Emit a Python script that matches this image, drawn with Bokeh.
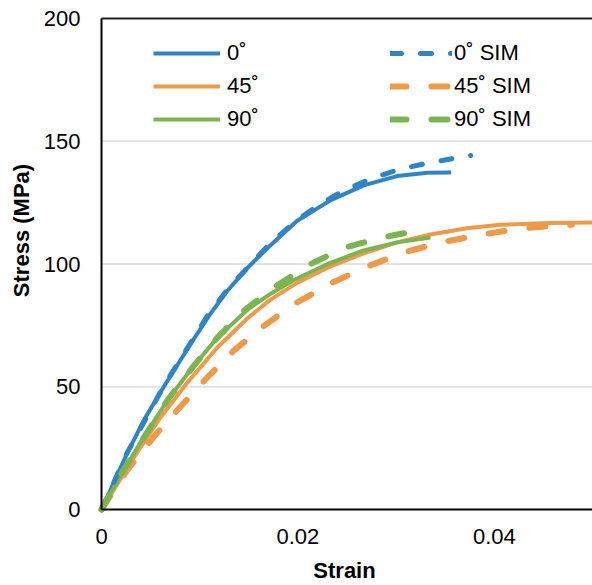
import math

from bokeh.plotting import figure
from bokeh.models import Legend, LegendItem, FixedTicker, Range1d, Label
from bokeh.core.properties import value
from bokeh.embed import file_html
from bokeh.resources import INLINE

# Stress-strain curves: measured specimens and simulations at three orientations
strain_0 = [0, 0.0026, 0.0043, 0.0063, 0.0091, 0.0111, 0.0128, 0.0149, 0.0165,
            0.0199, 0.0233, 0.0267, 0.0301, 0.0332, 0.0356]
stress_0 = [0, 22.8, 36.3, 49.7, 67.6, 79.8, 89.0, 98.5, 105.0,
            117.5, 125.9, 132.0, 135.8, 137.2, 137.3]

strain_45 = [0, 0.0033, 0.0060, 0.0088, 0.0118, 0.0149, 0.0172, 0.0200, 0.0233,
             0.0267, 0.0301, 0.0335, 0.0372, 0.0406, 0.0457, 0.0500]
stress_45 = [0, 21.2, 37.5, 52.0, 66.0, 78.0, 85.5, 92.5, 99.0,
             104.3, 108.8, 112.0, 114.6, 116.0, 116.7, 116.9]

strain_90 = [0, 0.0019, 0.0043, 0.0067, 0.0091, 0.0118, 0.0149, 0.0172, 0.0196,
             0.0233, 0.0267, 0.0301, 0.0335]
stress_90 = [0, 13.5, 29.5, 44.4, 57.0, 70.0, 81.5, 87.8, 93.5,
             100.5, 105.5, 108.8, 110.8]

strain_0_sim = [0, 0.0026, 0.0063, 0.0108, 0.0130, 0.0172, 0.0198, 0.0221, 0.0247,
                0.0276, 0.0304, 0.0333, 0.0376]
stress_0_sim = [0, 23.0, 50.0, 79.0, 90.5, 108.5, 117.5, 124.0, 130.0,
                135.0, 138.6, 141.2, 144.2]

strain_45_sim = [0, 0.0026, 0.0053, 0.0080, 0.0108, 0.0135, 0.0166, 0.0199, 0.0237,
                 0.0271, 0.0308, 0.0346, 0.0387, 0.0428, 0.0467, 0.0479]
stress_45_sim = [0, 15.9, 29.5, 41.7, 53.9, 64.8, 75.0, 84.3, 92.8,
                 99.0, 104.7, 108.8, 112.0, 114.5, 115.7, 116.0]

strain_90_sim = [0, 0.0020, 0.0045, 0.0068, 0.0094, 0.0118, 0.0145, 0.0179, 0.0213,
                 0.0248, 0.0286, 0.0322]
stress_90_sim = [0, 14.5, 30.5, 45.0, 58.5, 70.0, 81.0, 91.3, 100.0,
                 106.7, 110.8, 113.6]

labels_left = ["0˚", "45˚", "90˚"]
labels_right = ["0˚ SIM", "45˚ SIM", "90˚ SIM"]

x_ticks = [0, 0.02, 0.04]
x_tick_labels = ["0", "0.02", "0.04"]
y_ticks = [0, 50, 100, 150, 200]
grid_levels = [50, 100, 150]

X_MAX = 0.05
Y_MAX = 200

BLUE = "#2E84C6"
ORANGE = "#EE9A49"
GREEN = "#7BB552"
FONT = "Liberation Sans"

# Page geometry in pixels. The plotting frame fills the whole page; the axes are
# pinned at zero so that their labels can sit in the margin of the frame.
WIDTH, HEIGHT = 592, 585
AX_LEFT, AX_RIGHT = 101, 592     # pixel columns of strain 0 and X_MAX
AX_BOTTOM, AX_TOP = 509, 18      # pixel rows of stress 0 and Y_MAX
DX = X_MAX / (AX_RIGHT - AX_LEFT)
DY = Y_MAX / (AX_BOTTOM - AX_TOP)


def at_x(px):
    return (px - AX_LEFT) * DX


def at_y(py):
    return (AX_BOTTOM - py) * DY


p = figure(width=WIDTH, height=HEIGHT, output_backend="svg", toolbar_location=None,
           x_range=Range1d(at_x(0), at_x(WIDTH)), y_range=Range1d(at_y(HEIGHT), at_y(0)),
           min_border_left=0, min_border_right=0, min_border_top=0, min_border_bottom=0)
p.outline_line_color = None
p.background_fill_color = "white"
p.border_fill_color = "white"

# horizontal gridlines and the top frame line
p.segment(x0=0, x1=X_MAX, y0=grid_levels, y1=grid_levels, line_color="#E2E2E2", line_width=2)
p.segment(x0=0, x1=X_MAX, y0=Y_MAX, y1=Y_MAX, line_color="#222222", line_width=2)

r0 = p.line(strain_0, stress_0, line_color=BLUE, line_width=4, line_join="round")
r45 = p.line(strain_45, stress_45, line_color=ORANGE, line_width=4, line_join="round")
r90 = p.line(strain_90, stress_90, line_color=GREEN, line_width=4, line_join="round")
r0s = p.line(strain_0_sim, stress_0_sim, line_color=BLUE, line_width=5,
             line_dash="11 19", line_cap="round", line_join="round")
r45s = p.line(strain_45_sim, stress_45_sim, line_color=ORANGE, line_width=6,
              line_dash="16 25", line_cap="round", line_join="round")
r90s = p.line(strain_90_sim, stress_90_sim, line_color=GREEN, line_width=6,
              line_dash="16 25", line_cap="round", line_join="round")

# axes
for ax in (p.xaxis, p.yaxis):
    ax.fixed_location = 0
    ax.axis_line_color = "black"
    ax.axis_line_width = 2
    ax.major_tick_line_color = None
    ax.minor_tick_line_color = None
    ax.major_tick_out = 0
    ax.major_tick_in = 0
    ax.major_label_text_font = FONT
    ax.major_label_text_font_size = "22px"
    ax.major_label_text_color = "black"

p.xaxis.ticker = FixedTicker(ticks=x_ticks)
p.xaxis.bounds = (0, X_MAX)
p.xaxis.major_label_overrides = dict(zip(x_ticks, x_tick_labels))
p.xaxis.major_label_standoff = 19

p.yaxis.ticker = FixedTicker(ticks=y_ticks)
p.yaxis.bounds = (0, Y_MAX)
p.yaxis.major_label_standoff = 21

p.xgrid.grid_line_color = None
p.ygrid.grid_line_color = None

# axis titles, anchored at their centres
title_style = dict(text_font=FONT, text_font_size="22px", text_font_style="bold",
                   text_color="black", text_align="center", text_baseline="middle")
p.add_layout(Label(x=at_x(344), y=at_y(570), text="Strain", **title_style))
p.add_layout(Label(x=at_x(21), y=at_y(230), text="Stress (MPa)", angle=math.pi / 2,
                   **title_style))


def make_legend(labels, renderers, loc, glyph_width, standoff):
    items = [LegendItem(label=value(t), renderers=[r]) for t, r in zip(labels, renderers)]
    return Legend(items=items, location=loc, orientation="vertical",
                  glyph_width=glyph_width, glyph_height=22, label_height=22,
                  spacing=7, label_standoff=standoff, padding=0, margin=0,
                  border_line_color=None, background_fill_alpha=0,
                  label_text_font=FONT, label_text_font_size="22px",
                  label_text_color="black")


# legend anchors: left edge and distance of the legend's bottom from the page bottom
LEG_BOTTOM = HEIGHT - 132
p.add_layout(make_legend(labels_left, [r0, r45, r90], (153, LEG_BOTTOM), 67, 7), "center")
p.add_layout(make_legend(labels_right, [r0s, r45s, r90s], (390, LEG_BOTTOM), 62, 2), "center")

open("out.html", "w").write(file_html(p, INLINE))
